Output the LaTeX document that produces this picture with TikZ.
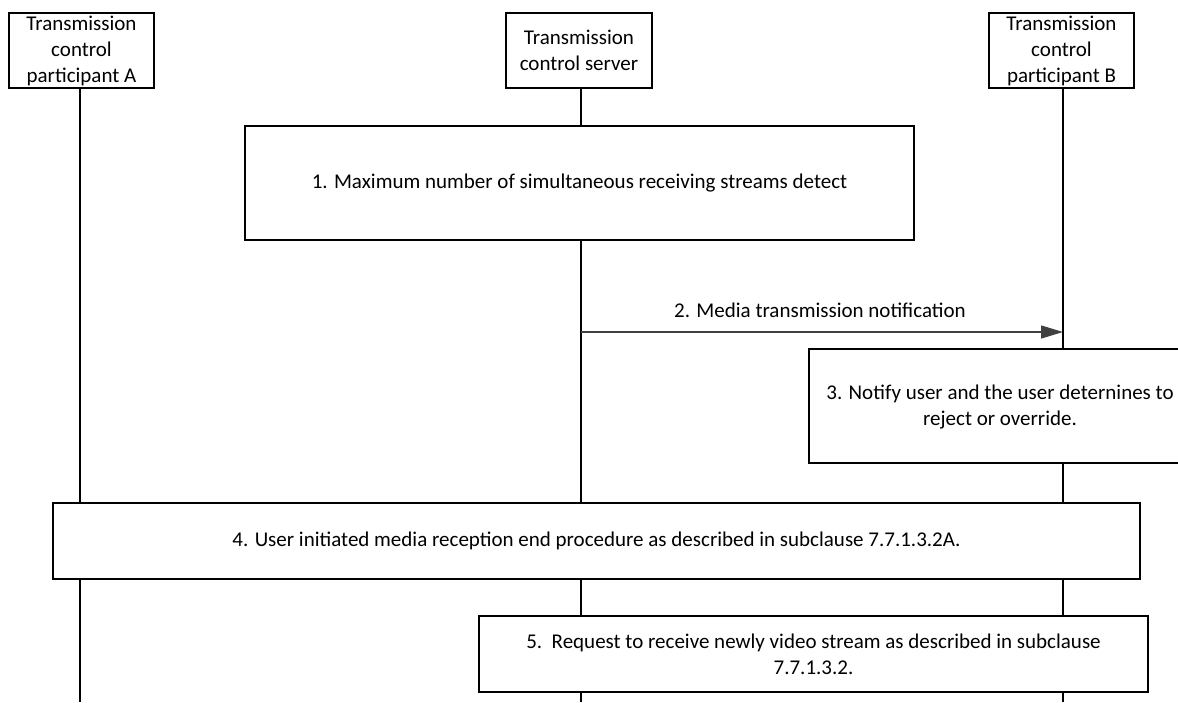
\documentclass[tikz,border=0pt]{standalone}
\usepackage{fontspec}
\setmainfont{Carlito}
\usetikzlibrary{arrows.meta}
\begin{document}
\begin{tikzpicture}[x=1pt,y=-1pt,
  txt/.style={font=\fontsize{21}{26}\selectfont},
  hdr/.style={draw,line width=1.1pt,inner sep=0pt,txt,align=center},
  stepbox/.style={draw,line width=1.1pt,fill=white,inner sep=0pt,txt,align=center},
  life/.style={line width=1.3pt},
  msg/.style={draw=black!75,line width=1.1pt,-{Triangle[length=22pt,width=13pt]}},
  lbl/.style={txt,inner sep=0pt}]
\clip (0,0) rectangle (1178,702);
\useasboundingbox (0,0) rectangle (1178,702);
% headers
\node[hdr,minimum width=145pt,minimum height=75pt] (A) at (81.5,50.5) {Transmission\\control\\participant A};
\node[hdr,minimum width=146pt,minimum height=75pt] (S) at (579,50.5) {Transmission\\control server};
\node[hdr,minimum width=145pt,minimum height=75pt] (B) at (1061.5,50.5) {Transmission\\control\\participant B};
% lifeline ends
\coordinate (Ae) at (80,702);
\coordinate (Se) at (581,702);
\coordinate (Be) at (1063,702);
\draw[life] (A.south -| Ae) -- (Ae);
\draw[life] (S.south -| Se) -- (Se);
\draw[life] (B.south -| Be) -- (Be);
% boxes
\node[stepbox,minimum width=669pt,minimum height=114pt] (s1) at (579.5,183) {1. Maximum number of simultaneous receiving streams detect};
\coordinate (m2s) at (581,332);
\coordinate (m2e) at (1063,332);
\draw[msg] (m2s) -- (m2e);
\node[lbl] (l2) at (820,310) {2. Media transmission notification};
\node[stepbox,minimum width=400pt,minimum height=114pt] (s3) at (1009,406) {};
\node[lbl,align=center] (t3) at (1000,407) {3. Notify user and the user deternines to\\reject or override.};
\node[stepbox,minimum width=1087pt,minimum height=76pt] (s4) at (596.5,541) {4. User initiated media reception end procedure as described in subclause 7.7.1.3.2A.};
\node[stepbox,minimum width=669pt,minimum height=76pt] (s5) at (813.5,654) {5.\ \ Request to receive newly video stream as described in subclause\\7.7.1.3.2.};
\end{tikzpicture}
\end{document}
